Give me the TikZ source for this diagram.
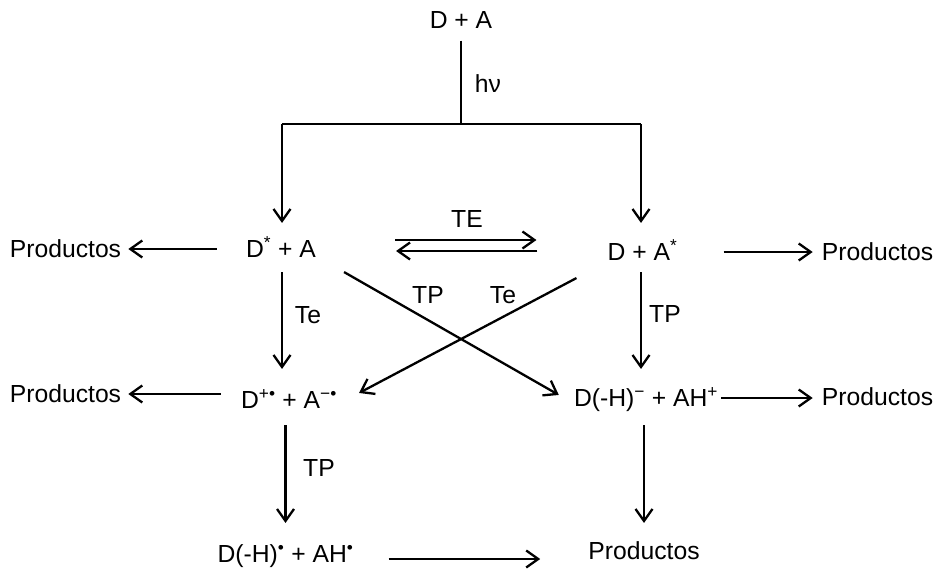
\documentclass[tikz,border=0pt]{standalone}
\usepackage{fontspec}
\setmainfont{Liberation Sans}
\usetikzlibrary{arrows.meta, positioning, calc}
\tikzset{
  species/.style={inner sep=0pt, text height=17.7pt, text depth=0pt,
                  font=\fontsize{24.7pt}{30pt}\selectfont},
  tag/.style={species},
  arrow/.style={-{Straight Barb[length=12pt,width=17pt]}, line width=2.3pt},
  plainline/.style={line width=2.3pt}
}

\begin{document}
\begin{tikzpicture}[x=1pt, y=-1pt]
  \useasboundingbox (0,0) rectangle (942,570);

  % species
  \node[species] (top) at (461,19.5) {D + A};
  \node[species] (dsa) at (281,249) {D\textsuperscript{*} + A};
  \node[species] (dpa) at (642.5,252) {D + A\textsuperscript{*}};
  \node[species] (dce) at (289,400) {D\textsuperscript{+•} + A\textsuperscript{−•}};
  \node[species] (dha) at (646,398) {D(-H)\textsuperscript{−} + AH\textsuperscript{+}};
  \node[species] (dhh) at (285.5,554) {D(-H)\textsuperscript{•} + AH\textsuperscript{•}};

  % products
  \node[species] (pL1) at (65.5,249) {Productos};
  \node[species] (pR1) at (877.5,252) {Productos};
  \node[species] (pL2) at (65.5,394) {Productos};
  \node[species] (pR2) at (877.5,397) {Productos};
  \node[species] (p3) at (644,551) {Productos};

  % labels
  \node[tag] (hv) at (488,84) {hν};
  \node[tag] (te) at (467,219) {TE};
  \node[tag] (teL) at (308,315) {Te};
  \node[tag] (tpR) at (665,314) {TP};
  \node[tag] (tpX) at (428,295) {TP};
  \node[tag] (teX) at (503,295) {Te};
  \node[tag] (tpL) at (319,468) {TP};

  % excitation fork
  \coordinate (fork) at (461,124);
  \coordinate (forkL) at (282,124);
  \coordinate (forkR) at (641,124);
  \draw[plainline, shorten <=12pt] (top.south) -- (fork);
  \draw[plainline] (forkL) -- (forkR);
  \draw[arrow, shorten >=17pt] (forkL) -- (forkL |- dsa.north);
  \draw[arrow, shorten >=20pt] (forkR) -- (forkR |- dpa.north);

  % vertical steps
  \draw[arrow, shorten <=14pt, shorten >=22pt] (forkL |- dsa.south) -- (forkL |- dce.north);
  \draw[arrow, shorten <=11pt, shorten >=20pt] (forkR |- dpa.south) -- (forkR |- dha.north);
  \draw[arrow, shorten <=16pt, shorten >=22pt] (dhh.north |- dce.south) -- (dhh.north);
  \draw[arrow, shorten <=18pt, shorten >=19pt] (p3.north |- dha.south) -- (p3.north);

  % energy transfer
  \draw[arrow, shorten <=79pt, shorten >=71pt] ([yshift=9pt]dsa.east) -- ([yshift=9pt]dsa.east -| dpa.west);
  \draw[arrow, shorten <=70pt, shorten >=80pt] ([yshift=-2pt]dsa.east -| dpa.west) -- ([yshift=-2pt]dsa.east);

  % crossed transfers
  \draw[arrow] ([xshift=28pt,yshift=-14pt]dsa.south east) -- ([xshift=-15pt,yshift=-6pt]dha.north west);
  \draw[arrow] ([xshift=-31pt,yshift=-17pt]dpa.south west) -- ([xshift=22pt,yshift=-2pt]dce.north east);

  % products
  \draw[arrow, shorten <=29pt, shorten >=7pt] (dsa.west) -- (dsa.west -| pL1.east);
  \draw[arrow, shorten <=46pt, shorten >=9pt] (dpa.east) -- (dpa.east -| pR1.west);
  \draw[arrow, shorten <=20pt, shorten >=7pt] (pL2 -| dce.west) -- (pL2.east);
  \draw[arrow, shorten <=3pt, shorten >=9pt] (dha.east) -- (dha.east -| pR2.west);
  \draw[arrow, shorten <=35pt, shorten >=48pt] ([yshift=-5pt]dhh.east) -- ([yshift=-5pt]dhh.east -| p3.west);
\end{tikzpicture}
\end{document}
